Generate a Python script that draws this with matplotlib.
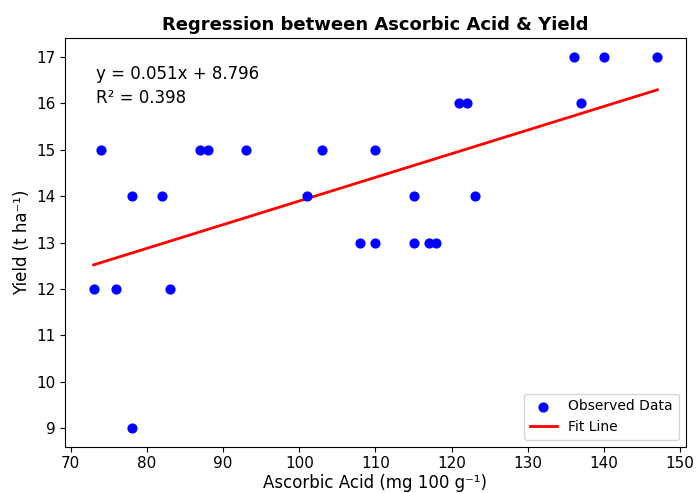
import numpy as np
import matplotlib.pyplot as plt

ascorbic = [73, 74, 76, 78, 78, 82, 83, 87, 88, 93, 101, 103, 108, 110, 110,
            115, 115, 117, 118, 121, 122, 123, 136, 137, 140, 147]
yield_t = [12, 15, 12, 14, 9, 14, 12, 15, 15, 15, 14, 15, 13, 15, 13,
           14, 13, 13, 13, 16, 16, 14, 17, 16, 17, 17]

# fit values as printed on the chart
slope = 0.051
intercept = 8.796
r2 = 0.398

x = np.array(ascorbic, dtype=float)
y = np.array(yield_t, dtype=float)

fig, ax = plt.subplots(figsize=(6.96, 4.93), dpi=100)
ax.scatter(x, y, color="blue", s=40, label="Observed Data", zorder=3)
xs = np.linspace(x.min(), x.max(), 100)
ax.plot(xs, slope * xs + intercept, color="red", linewidth=2, label="Fit Line")

ax.text(0.05, 0.935, f"y = {slope:.3f}x + {intercept:.3f}\nR\u00b2 = {r2:.3f}",
        transform=ax.transAxes, fontsize=12, va="top", linespacing=1.4)

ax.set_title("Regression between Ascorbic Acid & Yield", fontsize=13, fontweight="bold")
ax.set_xlabel("Ascorbic Acid (mg 100 g\u207b\u00b9)", fontsize=12)
ax.set_ylabel("Yield (t ha\u207b\u00b9)", fontsize=12)
ax.tick_params(labelsize=11)
ax.legend(loc="lower right", fontsize=10)

fig.subplots_adjust(left=0.094, right=0.985, top=0.922, bottom=0.094)
ax.xaxis.labelpad = 2
fig.savefig("out.png", dpi=100)
